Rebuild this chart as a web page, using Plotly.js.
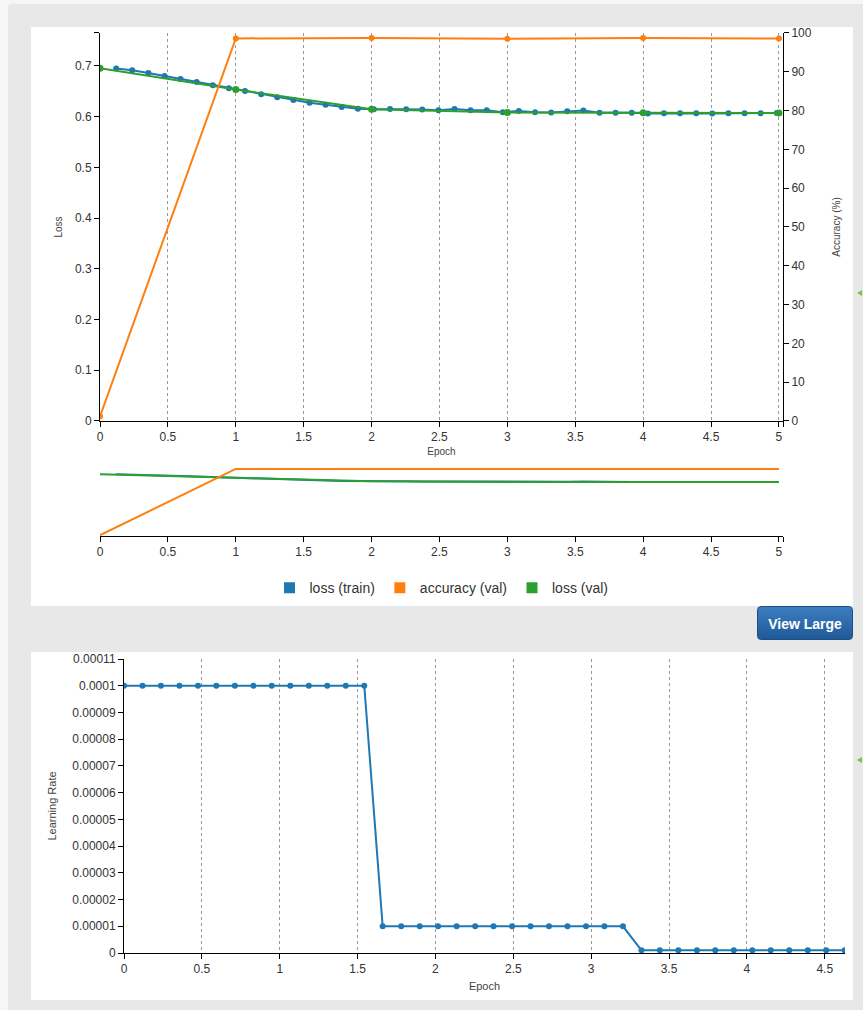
<!DOCTYPE html>
<html>
<head>
<meta charset="utf-8">
<script src="https://cdn.plot.ly/plotly-3.0.1.min.js"></script>
<style>
  html, body { margin: 0; padding: 0; width: 863px; height: 1010px; overflow: hidden;
               background: #f6f6f6; font-family: Arial, "Liberation Sans", sans-serif; }
  #frame { position: absolute; left: 8px; top: 4px; width: 880px; height: 1030px;
           background: #e8e8e8; border-radius: 4px; }
  .panel { position: absolute; background: #fff; }
  #topPanel { left: 31px; top: 27px; width: 822px; height: 579px; }
  #lrPanel { left: 31px; top: 652px; width: 822px; height: 348px; }
  #viewLarge { position: absolute; left: 757px; top: 606px; width: 96px; height: 34px;
               border-radius: 4px; color: #fff; font-weight: bold; font-size: 14px;
               line-height: 34px; text-align: center;
               background: linear-gradient(#3d7dc0, #1f5a98); box-sizing: border-box;
               border: 1px solid #1b4f86; }
  .nub { position: absolute; left: 857px; width: 0; height: 0;
         border-top: 3px solid transparent; border-bottom: 3px solid transparent;
         border-right: 5px solid #7cc14a; }
</style>
</head>
<body>
<div id="frame"></div>
<div class="panel" id="topPanel"><div id="trainChart" style="width:822px;height:579px"></div></div>
<div id="viewLarge">View Large</div>
<div class="panel" id="lrPanel"><div id="lrChart" style="width:822px;height:348px"></div></div>
<div class="nub" style="top:290px"></div>
<div class="nub" style="top:757px"></div>

<script>
// ---- training history ----
const trainEpoch = [0.119, 0.237, 0.356, 0.475, 0.593, 0.712, 0.831, 0.949, 1.068, 1.187,
                    1.305, 1.424, 1.543, 1.661, 1.780, 1.899, 2.017, 2.136, 2.255, 2.373,
                    2.492, 2.611, 2.729, 2.848, 2.967, 3.085, 3.204, 3.323, 3.441, 3.560,
                    3.679, 3.797, 3.916, 4.035, 4.153, 4.272, 4.391, 4.509, 4.628, 4.747,
                    4.865, 4.984];
const trainLoss = [0.6948, 0.6915, 0.6862, 0.6803, 0.6744, 0.6685, 0.6620, 0.6561, 0.6508, 0.6442,
                   0.6383, 0.6330, 0.6275, 0.6235, 0.6190, 0.6158, 0.6148, 0.6152, 0.6147, 0.6140,
                   0.6128, 0.6153, 0.6127, 0.6125, 0.6088, 0.6113, 0.6088, 0.6085, 0.6108, 0.6122,
                   0.6080, 0.6080, 0.6078, 0.6062, 0.6068, 0.6070, 0.6070, 0.6065, 0.6068, 0.6070,
                   0.6070, 0.6072];

const valEpoch = [0, 1, 2, 3, 4, 5];
const valAccuracy = [1.2, 98.6, 98.7, 98.5, 98.7, 98.6];
const valLoss = [0.6955, 0.6535, 0.6148, 0.6084, 0.6078, 0.6072];

// ---- learning-rate schedule ----
const lrEpoch = [0, 0.119, 0.237, 0.356, 0.475, 0.593, 0.712, 0.831, 0.949, 1.068,
                 1.187, 1.305, 1.424, 1.543, 1.661, 1.780, 1.899, 2.017, 2.136, 2.255,
                 2.373, 2.492, 2.611, 2.729, 2.848, 2.967, 3.085, 3.204, 3.323, 3.441,
                 3.560, 3.679, 3.797, 3.916, 4.035, 4.153, 4.272, 4.391, 4.509, 4.628];
const learningRate = [1e-4, 1e-4, 1e-4, 1e-4, 1e-4, 1e-4, 1e-4, 1e-4, 1e-4, 1e-4,
                      1e-4, 1e-4, 1e-4, 1e-4, 1e-5, 1e-5, 1e-5, 1e-5, 1e-5, 1e-5,
                      1e-5, 1e-5, 1e-5, 1e-5, 1e-5, 1e-5, 1e-5, 1e-5, 1e-6, 1e-6,
                      1e-6, 1e-6, 1e-6, 1e-6, 1e-6, 1e-6, 1e-6, 1e-6, 1e-6, 1e-6];

// ---- ticks ----
const epochTickVals = [0, 0.5, 1, 1.5, 2, 2.5, 3, 3.5, 4, 4.5, 5, 5.03];
const epochTickText = ['0', '0.5', '1', '1.5', '2', '2.5', '3', '3.5', '4', '4.5', '5', ''];
const lossTickVals = [0, 0.1, 0.2, 0.3, 0.4, 0.5, 0.6, 0.7, 0.765];
const lossTickText = ['0', '0.1', '0.2', '0.3', '0.4', '0.5', '0.6', '0.7', ''];
const accTickVals = [0, 10, 20, 30, 40, 50, 60, 70, 80, 90, 100];
const accTickText = ['0', '10', '20', '30', '40', '50', '60', '70', '80', '90', '100'];
const lrTickVals = [0, 1e-5, 2e-5, 3e-5, 4e-5, 5e-5, 6e-5, 7e-5, 8e-5, 9e-5, 1e-4, 1.1e-4];
const lrTickText = ['0', '0.00001', '0.00002', '0.00003', '0.00004', '0.00005', '0.00006',
                    '0.00007', '0.00008', '0.00009', '0.0001', '0.00011'];

const BLUE = '#1f77b4', ORANGE = '#ff7f0e', GREEN = '#2ca02c';
const FONT = 'Arial, "Liberation Sans", sans-serif';
const TICK_FONT = { family: FONT, size: 12, color: '#333' };
const TITLE_FONT = { family: FONT, size: 10, color: '#444' };

const axisBase = {
  showline: true, linecolor: '#000', linewidth: 1,
  ticks: 'outside', ticklen: 5, tickcolor: '#000', tickwidth: 1,
  zeroline: false, tickfont: TICK_FONT, fixedrange: true, ticklabeloverflow: 'allow'
};

const main = [
  { x: trainEpoch, y: trainLoss, xaxis: 'x', yaxis: 'y', type: 'scatter', mode: 'lines+markers',
    line: { color: BLUE, width: 2 }, marker: { color: BLUE, size: 6 }, showlegend: false },
  { x: valEpoch, y: valAccuracy, xaxis: 'x', yaxis: 'y2', type: 'scatter', mode: 'lines+markers',
    line: { color: ORANGE, width: 2 }, marker: { color: ORANGE, size: 6 }, showlegend: false },
  { x: valEpoch, y: valLoss, xaxis: 'x', yaxis: 'y', type: 'scatter', mode: 'lines+markers',
    line: { color: GREEN, width: 2 }, marker: { color: GREEN, size: 7 }, showlegend: false },
  // overview strip
  { x: trainEpoch, y: trainLoss, xaxis: 'x2', yaxis: 'y3', type: 'scatter', mode: 'lines',
    line: { color: BLUE, width: 2 }, showlegend: false },
  { x: valEpoch, y: valAccuracy, xaxis: 'x2', yaxis: 'y4', type: 'scatter', mode: 'lines',
    line: { color: ORANGE, width: 2 }, showlegend: false },
  { x: valEpoch, y: valLoss, xaxis: 'x2', yaxis: 'y3', type: 'scatter', mode: 'lines',
    line: { color: GREEN, width: 2 }, showlegend: false },
  // legend keys
  { x: [null], y: [null], type: 'scatter', mode: 'markers', name: 'loss (train)',
    marker: { color: BLUE, symbol: 'square', size: 11 } },
  { x: [null], y: [null], type: 'scatter', mode: 'markers', name: 'accuracy (val)',
    marker: { color: ORANGE, symbol: 'square', size: 11 } },
  { x: [null], y: [null], type: 'scatter', mode: 'markers', name: 'loss (val)',
    marker: { color: GREEN, symbol: 'square', size: 11 } }
];

const mainLayout = {
  width: 822, height: 579,
  margin: { l: 69, r: 70, t: 0, b: 0 },
  paper_bgcolor: '#fff', plot_bgcolor: '#fff',
  font: { family: FONT, color: '#333' },
  showlegend: true,
  legend: { orientation: 'h', x: 0.5, xanchor: 'center', y: 0.031, yanchor: 'middle',
            font: { family: FONT, size: 14, color: '#333' }, itemclick: false,
            itemdoubleclick: false, bgcolor: 'rgba(0,0,0,0)' },
  xaxis: Object.assign({}, axisBase, {
    domain: [0, 1], anchor: 'y', range: [0, 5.03],
    tickmode: 'array', tickvals: epochTickVals, ticktext: epochTickText,
    showgrid: true, gridcolor: '#999', gridwidth: 1, griddash: '3px,3px',
    title: { text: 'Epoch', font: TITLE_FONT, standoff: 4 }
  }),
  yaxis: Object.assign({}, axisBase, {
    domain: [0.31952, 0.98964], anchor: 'x', range: [0, 0.765],
    tickmode: 'array', tickvals: lossTickVals, ticktext: lossTickText, showgrid: false,
    title: { text: 'Loss', font: TITLE_FONT, standoff: 10 }
  }),
  yaxis2: Object.assign({}, axisBase, {
    overlaying: 'y', side: 'right', anchor: 'x', range: [0, 100],
    tickmode: 'array', tickvals: accTickVals, ticktext: accTickText, showgrid: false,
    title: { text: 'Accuracy (%)', font: TITLE_FONT, standoff: 22 }
  }),
  xaxis2: Object.assign({}, axisBase, {
    domain: [0, 1], anchor: 'y3', range: [0, 5.03],
    tickmode: 'array', tickvals: epochTickVals, ticktext: epochTickText, showgrid: false
  }),
  yaxis3: { domain: [0.1209, 0.23834], anchor: 'x2', range: [0, 0.765], visible: false,
            fixedrange: true },
  yaxis4: { overlaying: 'y3', anchor: 'x2', range: [0, 100], visible: false, fixedrange: true }
};

const lrData = [
  { x: lrEpoch, y: learningRate, type: 'scatter', mode: 'lines+markers',
    line: { color: BLUE, width: 2 }, marker: { color: BLUE, size: 6 }, showlegend: false }
];

const lrLayout = {
  width: 822, height: 348,
  margin: { l: 93, r: 8, t: 7, b: 47 },
  paper_bgcolor: '#fff', plot_bgcolor: '#fff',
  font: { family: FONT, color: '#333' },
  showlegend: false,
  xaxis: Object.assign({}, axisBase, {
    range: [0, 4.63], dtick: 0.5, tick0: 0,
    showgrid: true, gridcolor: '#999', gridwidth: 1, griddash: '3px,3px',
    title: { text: 'Epoch', font: { family: FONT, size: 11, color: '#444' }, standoff: 6 }
  }),
  yaxis: Object.assign({}, axisBase, {
    range: [0, 0.00011], tickmode: 'array', tickvals: lrTickVals, ticktext: lrTickText,
    showgrid: false,
    title: { text: 'Learning Rate', font: { family: FONT, size: 11, color: '#444' }, standoff: 13 }
  })
};

const cfg = { displayModeBar: false, staticPlot: true, responsive: false };
Plotly.newPlot('trainChart', main, mainLayout, cfg);
Plotly.newPlot('lrChart', lrData, lrLayout, cfg);
</script>
</body>
</html>
